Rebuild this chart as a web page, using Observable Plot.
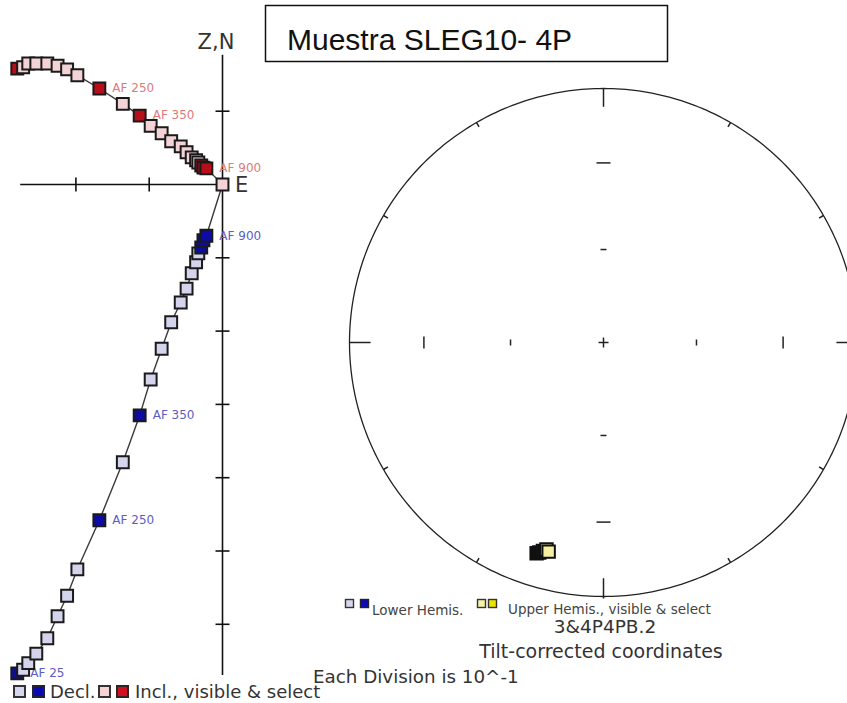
<!DOCTYPE html>
<html><head><meta charset="utf-8">
<script src="https://cdn.jsdelivr.net/npm/d3@7"></script>
<script src="https://cdn.jsdelivr.net/npm/@observablehq/plot@0.6"></script>
<style>
html,body{margin:0;padding:0;background:#fff;overflow:hidden;}
#wrap{position:relative;width:847px;height:703px;}
#wrap svg{position:absolute;left:0;top:0;}
</style></head><body>
<div id="wrap">
<svg id="ann" width="847" height="703" font-family="DejaVu Sans, Verdana, sans-serif">
  <rect x="265.5" y="5.5" width="402" height="56" fill="none" stroke="#111" stroke-width="1.5"/>
  <text x="287" y="50" font-family="Liberation Sans, Arial, sans-serif" font-size="30" fill="#111">Muestra SLEG10- 4P</text>
  <text x="216" y="49" text-anchor="middle" font-size="21" fill="#333">Z,N</text>
  <text x="235" y="192" font-size="21" fill="#333">E</text>
  <rect x="14" y="686" width="11" height="11" fill="#d6d6ee" stroke="#333" stroke-width="2"/>
  <rect x="33" y="686" width="11" height="11" fill="#0a0ab0" stroke="#223" stroke-width="2"/>
  <text x="50" y="698" font-size="18" fill="#333">Decl.</text>
  <rect x="99" y="686" width="11" height="11" fill="#f5d2d6" stroke="#333" stroke-width="2"/>
  <rect x="117" y="686" width="11" height="11" fill="#d01020" stroke="#322" stroke-width="2"/>
  <text x="135" y="698" font-size="18" fill="#333">Incl., visible &amp; select</text>
  <rect x="345.5" y="599.5" width="8" height="8" fill="#d6d6ee" stroke="#333" stroke-width="1.4"/>
  <rect x="360.5" y="599.5" width="8" height="8" fill="#0a0ab8" stroke="#223" stroke-width="1.4"/>
  <text x="372" y="615" font-size="13.5" fill="#444">Lower Hemis.</text>
  <rect x="477.5" y="599.5" width="8" height="8" fill="#f6f2a8" stroke="#333" stroke-width="1.4"/>
  <rect x="488.5" y="599.5" width="8" height="8" fill="#ece400" stroke="#333" stroke-width="1.4"/>
  <text x="508" y="614" font-size="13.5" fill="#444">Upper Hemis., visible &amp; select</text>
  <text x="605" y="633" text-anchor="middle" font-size="18.5" fill="#333">3&amp;4P4PB.2</text>
  <text x="601" y="658" text-anchor="middle" font-size="19" fill="#333">Tilt-corrected coordinates</text>
  <text x="313" y="683" font-size="18.3" fill="#333">Each Division is 10^-1</text>
</svg>
</div>
<script>
// ---- Zijderveld data (units: each division = 0.1) ----
const east  = [-0.280, -0.272, -0.265, -0.254, -0.239, -0.225, -0.212, -0.198, -0.168, -0.136, -0.113, -0.098, -0.083, -0.070, -0.057, -0.049, -0.042, -0.036, -0.033, -0.029, -0.026, -0.022];
const up    = [0.158, 0.160, 0.165, 0.165, 0.165, 0.162, 0.157, 0.149, 0.131, 0.110, 0.094, 0.080, 0.070, 0.059, 0.052, 0.044, 0.037, 0.033, 0.030, 0.026, 0.023, 0.022];
const north = [-0.667, -0.662, -0.653, -0.640, -0.619, -0.589, -0.561, -0.525, -0.458, -0.379, -0.315, -0.266, -0.224, -0.188, -0.161, -0.142, -0.121, -0.106, -0.094, -0.086, -0.076, -0.070];
const stepLabels = ["AF 25","","","","","","","","AF 250","","AF 350","","","","","","","","","","","AF 900"];
const selected = [1,0,0,0,0,0,0,0,1,0,1,0,0,0,0,0,0,0,0,1,1,1];
const xTickVals = [-0.2, -0.1];
const yTickVals = [0.1, -0.1, -0.2, -0.3, -0.4, -0.5, -0.6];

// ---- Stereonet data ----
const stereoDec = [197.6, 197.0, 196.2, 195.4, 194.7];
const stereoInc = [-14.0, -14.6, -15.6, -16.6, -16.0];
const stereoState = ["select", "select", "select", "visible", "visible"];
const netIncTicks = [30, 60];
const netAzTicks = [0, 30, 60, 90, 120, 150, 180, 210, 240, 270, 300, 330];

const W = 847, H = 703;
const wrap = document.getElementById("wrap");
const font = "DejaVu Sans, Verdana, sans-serif";

// ---------- Zijderveld ----------
const K = 733, OX = 222, OY = 184;
const rows = east.map((e, i) => ({i, e, z: up[i], n: north[i], label: stepLabels[i], sel: selected[i]}));
const origin = {e: 0, z: 0, n: 0};
const tk = 7 / K;
const axisSegs = [
  {x1: d3.min(east) + 0.004, y1: 0, x2: 0, y2: 0},
  {x1: 0, y1: d3.max(up) + 0.012, x2: 0, y2: d3.min(north) - 0.002}
];
const tickSegs = [
  ...xTickVals.map(v => ({x1: v, y1: -tk, x2: v, y2: tk})),
  ...yTickVals.map(v => ({x1: -tk, y1: v, x2: tk, y2: v}))
];
const sq = 6.7, sw = 2;
const zij = Plot.plot({
  width: W, height: H, margin: 0,
  x: {domain: [-OX / K, (W - OX) / K], range: [0, W], axis: null},
  y: {domain: [(OY - H) / K, OY / K], range: [H, 0], axis: null},
  color: {type: "identity"},
  marks: [
    Plot.link(axisSegs, {x1: "x1", y1: "y1", x2: "x2", y2: "y2", stroke: "#111", strokeWidth: 1.6}),
    Plot.link(tickSegs, {x1: "x1", y1: "y1", x2: "x2", y2: "y2", stroke: "#111", strokeWidth: 1.6}),
    Plot.line([...rows, origin], {x: "e", y: "z", stroke: "#3a3a3a", strokeWidth: 1.4}),
    Plot.line([...rows, origin], {x: "e", y: "n", stroke: "#3a3a3a", strokeWidth: 1.4}),
    Plot.text(rows.filter(d => d.label && d.i > 0), {x: "e", y: "z", text: "label", dx: 13, textAnchor: "start", fill: "#e07a7a", fontSize: 12, fontFamily: font}),
    Plot.text(rows.filter(d => d.label), {x: "e", y: "n", text: "label", dx: 13, textAnchor: "start", fill: "#5c5cc8", fontSize: 12, fontFamily: font}),
    Plot.dot(rows, {x: "e", y: "n", symbol: "square", r: sq, fill: d => d.sel ? "#0c0ca4" : "#d4d4ec", stroke: "#1a1a1a", strokeWidth: sw}),
    Plot.dot(rows, {x: "e", y: "z", symbol: "square", r: sq, fill: d => d.sel ? "#b80e1a" : "#f4d3d7", stroke: "#1a1a1a", strokeWidth: sw}),
    Plot.dot([origin], {x: "e", y: "z", symbol: "square", r: sq, fill: "#f4d3d7", stroke: "#1a1a1a", strokeWidth: sw})
  ]
});
wrap.appendChild(zij);

// ---------- Stereonet (equal area) ----------
const R0 = 254, CX = 603, CY = 342;
const rad = Math.PI / 180;
const eqArea = inc => Math.SQRT2 * Math.sin((90 - Math.abs(inc)) / 2 * rad);
const circle = d3.range(0, 361, 1).map(a => ({x: Math.sin(a * rad), y: Math.cos(a * rad)}));
const azSegs = netAzTicks.map(a => {
  const len = a % 180 === 0 ? 0.072 : (a % 90 === 0 ? 0.083 : 0.02);
  const r1 = a === 180 ? 1.008 : 1;
  return {x1: r1 * Math.sin(a * rad), y1: r1 * Math.cos(a * rad), x2: (1 - len) * Math.sin(a * rad), y2: (1 - len) * Math.cos(a * rad)};
});
const innerSegs = [];
netIncTicks.forEach(inc => {
  const r = eqArea(inc);
  const hv = inc === 30 ? 6 / R0 : 3 / R0;
  const hh = inc === 30 ? 7 / R0 : 3 / R0;
  [-1, 1].forEach(s => {
    innerSegs.push({x1: s * r, y1: -hv, x2: s * r, y2: hv});
    innerSegs.push({x1: -hh, y1: s * r, x2: hh, y2: s * r});
  });
});
const c = 5 / R0;
innerSegs.push({x1: -c, y1: 0, x2: c, y2: 0}, {x1: 0, y1: -c, x2: 0, y2: c});
const stereoPts = stereoDec.map((dec, i) => {
  const r = eqArea(stereoInc[i]);
  return {x: r * Math.sin(dec * rad), y: r * Math.cos(dec * rad), state: stereoState[i]};
});
const net = Plot.plot({
  width: W, height: H, margin: 0,
  x: {domain: [-1, 1], range: [CX - R0, CX + R0], axis: null},
  y: {domain: [-1, 1], range: [CY + R0, CY - R0], axis: null},
  color: {type: "identity"},
  marks: [
    Plot.line(circle, {x: "x", y: "y", stroke: "#222", strokeWidth: 1.3}),
    Plot.link(azSegs, {x1: "x1", y1: "y1", x2: "x2", y2: "y2", stroke: "#222", strokeWidth: 1.5}),
    Plot.link(innerSegs, {x1: "x1", y1: "y1", x2: "x2", y2: "y2", stroke: "#222", strokeWidth: 1.5}),
    Plot.dot(stereoPts, {x: "x", y: "y", symbol: "square", r: 7, fill: d => d.state === "select" ? "#111" : "#f6f0a0", stroke: "#111", strokeWidth: 2})
  ]
});
wrap.appendChild(net);
</script>
</body></html>
